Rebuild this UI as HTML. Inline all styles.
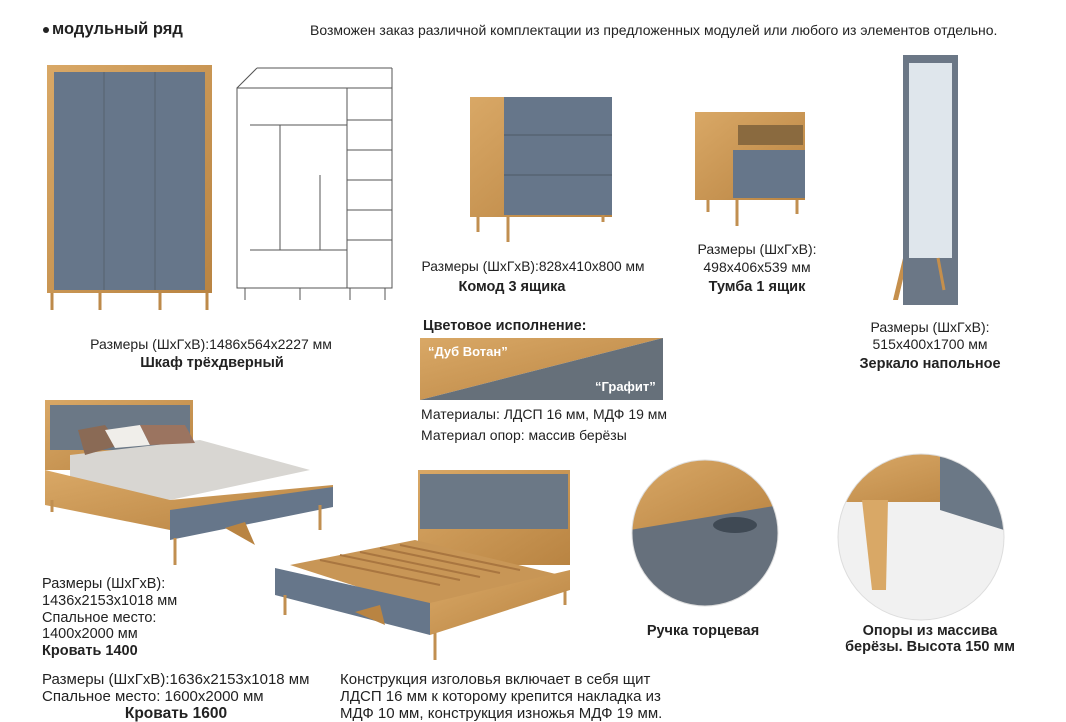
<!DOCTYPE html>
<html><head><meta charset="utf-8"><style>
body{margin:0;width:1066px;height:722px;background:#fff;position:relative;overflow:hidden;font-family:"Liberation Sans",sans-serif;color:#222}
.t{position:absolute;font-size:14px;white-space:nowrap;line-height:1}
.b{font-weight:bold}
.c{transform:translateX(-50%)}
svg{position:absolute;left:0;top:0}
</style></head><body>
<svg width="1066" height="722" viewBox="0 0 1066 722">
<defs>
<linearGradient id="oak" x1="0" y1="0" x2="1" y2="1"><stop offset="0" stop-color="#d9a866"/><stop offset="1" stop-color="#b98442"/></linearGradient>
<clipPath id="c1"><circle cx="705" cy="533" r="73"/></clipPath>
<clipPath id="c2"><circle cx="921" cy="537" r="83"/></clipPath>
</defs>
<rect x="47" y="65" width="165" height="228" fill="url(#oak)"/>
<rect x="54" y="72" width="151" height="218" fill="#66768a"/>
<line x1="104" y1="72" x2="104" y2="290" stroke="#55636f"/><line x1="155" y1="72" x2="155" y2="290" stroke="#55636f"/>
<g stroke="#bd8a4a" stroke-width="3"><line x1="52" y1="293" x2="52" y2="310"/><line x1="100" y1="293" x2="100" y2="310"/><line x1="160" y1="293" x2="160" y2="310"/><line x1="207" y1="293" x2="207" y2="310"/></g>
<g fill="none" stroke="#555" stroke-width="1">
<rect x="237" y="88" width="155" height="200"/><line x1="237" y1="88" x2="257" y2="68"/><line x1="392" y1="88" x2="392" y2="68"/><line x1="257" y1="68" x2="392" y2="68"/>
<line x1="347" y1="88" x2="347" y2="288"/><line x1="347" y1="120" x2="392" y2="120"/><line x1="347" y1="150" x2="392" y2="150"/><line x1="347" y1="180" x2="392" y2="180"/><line x1="347" y1="210" x2="392" y2="210"/><line x1="347" y1="240" x2="392" y2="240"/>
<line x1="250" y1="125" x2="347" y2="125"/><line x1="250" y1="250" x2="347" y2="250"/><line x1="280" y1="125" x2="280" y2="250"/><line x1="320" y1="175" x2="320" y2="250"/>
<line x1="245" y1="288" x2="245" y2="300"/><line x1="300" y1="288" x2="300" y2="300"/><line x1="350" y1="288" x2="350" y2="300"/><line x1="385" y1="288" x2="385" y2="300"/>
</g>
<rect x="470" y="97" width="142" height="120" fill="url(#oak)"/>
<rect x="504" y="97" width="108" height="118" fill="#66768a"/>
<line x1="504" y1="135" x2="612" y2="135" stroke="#4d5a66"/><line x1="504" y1="175" x2="612" y2="175" stroke="#4d5a66"/>
<g stroke="#c18f50" stroke-width="3"><line x1="478" y1="217" x2="478" y2="232"/><line x1="508" y1="217" x2="508" y2="242"/><line x1="603" y1="215" x2="603" y2="222"/></g>
<rect x="695" y="112" width="110" height="88" fill="url(#oak)"/>
<rect x="738" y="125" width="65" height="20" fill="#8a6a3f"/>
<rect x="733" y="150" width="72" height="48" fill="#66768a"/>
<g stroke="#c18f50" stroke-width="3"><line x1="708" y1="200" x2="708" y2="212"/><line x1="737" y1="200" x2="737" y2="226"/><line x1="797" y1="200" x2="797" y2="214"/></g>
<polygon points="893,300 938,112 943,112 898,300" fill="#c58f4c"/>
<rect x="903" y="55" width="55" height="250" fill="#6b7786"/>
<rect x="909" y="63" width="43" height="195" fill="#dfe6ec"/>
<line x1="938" y1="258" x2="944" y2="290" stroke="#c58f4c" stroke-width="3"/>
<polygon points="420,338 663,338 420,400" fill="url(#oak)"/>
<polygon points="663,338 663,400 420,400" fill="#66707a"/>
<polygon points="45,400 193,400 193,470 45,470" fill="url(#oak)"/>
<rect x="50" y="405" width="140" height="45" fill="#6b7886"/>
<polygon points="70,455 200,440 310,470 170,500 70,480" fill="#d8d6d2"/>
<polygon points="78,430 105,425 120,445 85,455" fill="#8a6a55"/>
<polygon points="105,430 140,425 150,445 115,448" fill="#f0eeea"/>
<polygon points="140,425 185,425 195,443 150,445" fill="#9b7460"/>
<polygon points="45,470 45,505 170,530 333,490 333,485 170,500" fill="url(#oak)"/>
<polygon points="170,510 333,487 333,507 170,540" fill="#66768a"/>
<g stroke="#c18f50" stroke-width="3"><line x1="175" y1="538" x2="175" y2="565"/><line x1="320" y1="505" x2="320" y2="530"/><line x1="52" y1="500" x2="52" y2="512"/></g>
<polygon points="225,528 245,522 255,545" fill="#b98442"/>
<rect x="418" y="470" width="152" height="95" fill="url(#oak)"/>
<rect x="420" y="474" width="148" height="55" fill="#6b7886"/>
<polygon points="290,565 415,540 560,575 430,610" fill="#c89656"/>
<g stroke="#a97640" stroke-width="2">
<line x1="320" y1="560" x2="440" y2="585"/><line x1="340" y1="555" x2="460" y2="580"/><line x1="360" y1="552" x2="480" y2="577"/><line x1="380" y1="548" x2="500" y2="573"/><line x1="400" y1="545" x2="520" y2="570"/></g>
<polygon points="275,568 430,603 430,635 275,595" fill="#66768a"/>
<polygon points="430,603 570,570 570,590 430,635" fill="url(#oak)"/>
<g stroke="#c18f50" stroke-width="3"><line x1="285" y1="595" x2="285" y2="615"/><line x1="435" y1="633" x2="435" y2="660"/><line x1="565" y1="590" x2="565" y2="605"/></g>
<polygon points="355,612 380,605 385,625" fill="#b98442"/>
<g clip-path="url(#c1)"><rect x="630" y="458" width="150" height="150" fill="#66707c"/><polygon points="630,458 780,458 780,505 630,530" fill="url(#oak)"/><ellipse cx="735" cy="525" rx="22" ry="8" fill="#3f4954"/></g>
<circle cx="705" cy="533" r="73" fill="none" stroke="#ddd"/>
<g clip-path="url(#c2)"><rect x="838" y="454" width="166" height="166" fill="#f1f1f1"/><rect x="838" y="454" width="166" height="48" fill="url(#oak)"/><polygon points="940,454 1004,454 1004,530 940,510" fill="#6b7886"/><polygon points="862,500 888,500 886,590 872,590" fill="#d9a866"/></g>
<circle cx="921" cy="537" r="83" fill="none" stroke="#ddd"/>
<circle cx="46" cy="30" r="3" fill="#222"/>
</svg>
<div class="t b" style="left:52px;top:21px;font-size:16.5px">модульный ряд</div>
<div class="t" style="left:310px;top:23px;font-size:14px">Возможен заказ различной комплектации из предложенных модулей или любого из элементов отдельно.</div>
<div class="t c" style="left:211px;top:337px;font-size:14px">Размеры (ШхГхВ):1486х564х2227 мм</div>
<div class="t c b" style="left:212px;top:356px;font-size:14.5px">Шкаф трёхдверный</div>
<div class="t c" style="left:533px;top:260px;font-size:13.8px">Размеры (ШхГхВ):828х410х800 мм</div>
<div class="t c b" style="left:512px;top:280px;font-size:14.5px">Комод 3 ящика</div>
<div class="t c" style="left:757px;top:242px">Размеры (ШхГхВ):</div>
<div class="t c" style="left:757px;top:260px">498х406х539 мм</div>
<div class="t c b" style="left:757px;top:280px;font-size:14.5px">Тумба 1 ящик</div>
<div class="t c" style="left:930px;top:320px">Размеры (ШхГхВ):</div>
<div class="t c" style="left:930px;top:337px">515х400х1700 мм</div>
<div class="t c b" style="left:930px;top:357px;font-size:14.5px">Зеркало напольное</div>
<div class="t b" style="left:423px;top:319px;font-size:14.5px">Цветовое исполнение:</div>
<div class="t b" style="left:428px;top:345px;color:#fff;font-size:13px">“Дуб Вотан”</div>
<div class="t b" style="left:595px;top:380px;color:#fff;font-size:13px">“Графит”</div>
<div class="t" style="left:421px;top:407px">Материалы: ЛДСП 16 мм, МДФ 19 мм</div>
<div class="t" style="left:421px;top:428px">Материал опор: массив берёзы</div>
<div class="t" style="left:42px;top:577px;font-size:14.5px">Размеры (ШхГхВ):</div>
<div class="t" style="left:42px;top:594px;font-size:14.5px">1436х2153х1018 мм</div>
<div class="t" style="left:42px;top:611px;font-size:14.5px">Спальное место:</div>
<div class="t" style="left:42px;top:627px;font-size:14.5px">1400х2000 мм</div>
<div class="t b" style="left:42px;top:644px;font-size:14.5px">Кровать 1400</div>
<div class="t" style="left:42px;top:672px;font-size:15px">Размеры (ШхГхВ):1636х2153х1018 мм</div>
<div class="t" style="left:42px;top:689px;font-size:15px">Спальное место: 1600х2000 мм</div>
<div class="t c b" style="left:176px;top:706px;font-size:15.5px">Кровать 1600</div>
<div class="t" style="left:340px;top:672px;font-size:15px">Конструкция изголовья включает в себя щит</div>
<div class="t" style="left:340px;top:689px;font-size:15px">ЛДСП 16 мм к которому крепится накладка из</div>
<div class="t" style="left:340px;top:706px;font-size:15px">МДФ 10 мм, конструкция изножья МДФ 19 мм.</div>
<div class="t c b" style="left:703px;top:624px;font-size:14.5px">Ручка торцевая</div>
<div class="t c b" style="left:930px;top:624px;font-size:14.5px">Опоры из массива</div>
<div class="t c b" style="left:930px;top:640px;font-size:14.5px">берёзы. Высота 150 мм</div>
</body></html>
